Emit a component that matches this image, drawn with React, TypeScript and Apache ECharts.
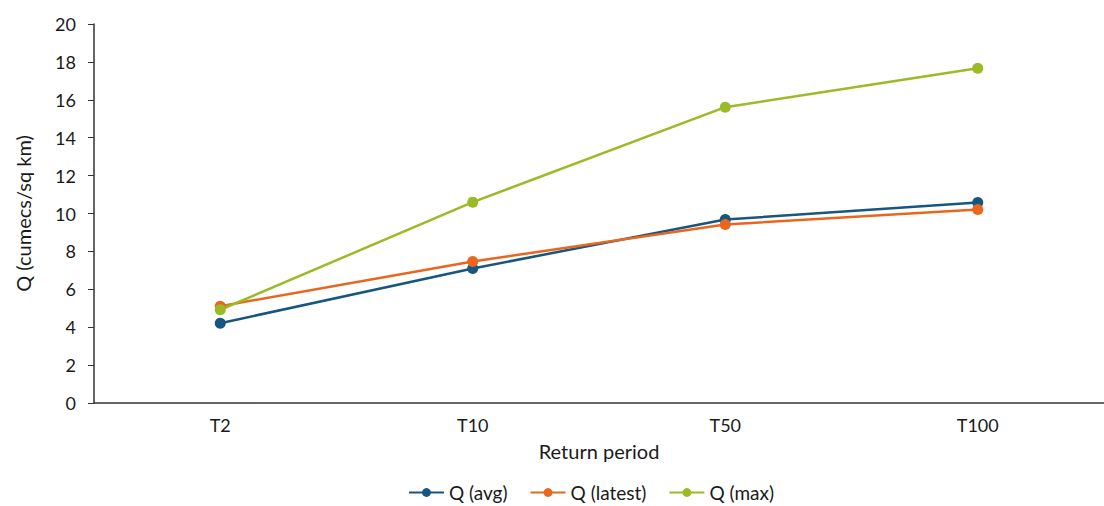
import React, { useEffect, useRef } from "react";
import * as echarts from "echarts";

const categories = ["T2", "T10", "T50", "T100"];
const qAvg = [4.21, 7.1, 9.68, 10.58];
const qLatest = [5.11, 7.47, 9.42, 10.21];
const qMax = [4.92, 10.6, 15.61, 17.67];
const yTicks = { min: 0, max: 20, interval: 2 };

const FONT = "Lato, 'Open Sans', sans-serif";
const TEXT = "#1a1a1a";

export default function App() {
  const ref = useRef<HTMLDivElement>(null);
  useEffect(() => {
    if (!ref.current) return;
    const chart = echarts.init(ref.current, undefined, { renderer: "svg" });
    const mk = (name: string, data: number[], color: string) => ({
      name,
      type: "line",
      data,
      symbol: "circle",
      symbolSize: 11,
      itemStyle: { color },
      lineStyle: { color, width: 2.5 },
    });
    chart.setOption({
      animation: false,
      textStyle: { fontFamily: FONT },
      grid: { left: 94, right: -4, top: 24, bottom: 103, containLabel: false },
      xAxis: {
        type: "category",
        data: categories,
        boundaryGap: true,
        axisLine: { lineStyle: { color: "#333", width: 1.5 } },
        axisTick: { show: false },
        axisLabel: { color: TEXT, fontSize: 18, margin: 13, fontFamily: FONT },
        name: "Return period",
        nameLocation: "middle",
        nameGap: 38,
        nameTextStyle: { color: TEXT, fontSize: 20, fontFamily: FONT },
      },
      yAxis: {
        type: "value",
        min: yTicks.min,
        max: yTicks.max,
        interval: yTicks.interval,
        splitLine: { show: false },
        axisLine: { show: true, lineStyle: { color: "#333", width: 1.5 } },
        axisTick: { show: true, length: 6, lineStyle: { color: "#333" } },
        axisLabel: { color: TEXT, fontSize: 18, margin: 18, fontFamily: FONT },
        name: "Q (cumecs/sq km)",
        nameLocation: "middle",
        nameGap: 61,
        nameTextStyle: { color: TEXT, fontSize: 20, fontFamily: FONT },
      },
      legend: {
        bottom: -1,
        left: 403,
        itemWidth: 35,
        itemHeight: 11,
        itemGap: 22,
        textStyle: { color: TEXT, fontSize: 19, fontFamily: FONT },
        data: ["Q (avg)", "Q (latest)", "Q (max)"],
      },
      series: [
        mk("Q (avg)", qAvg, "#17567f"),
        mk("Q (latest)", qLatest, "#ea661f"),
        mk("Q (max)", qMax, "#9bbb26"),
      ],
    });
    return () => chart.dispose();
  }, []);
  return <div ref={ref} style={{ width: 1104, height: 506, position: "absolute", left: 0, top: 0 }} />;
}
